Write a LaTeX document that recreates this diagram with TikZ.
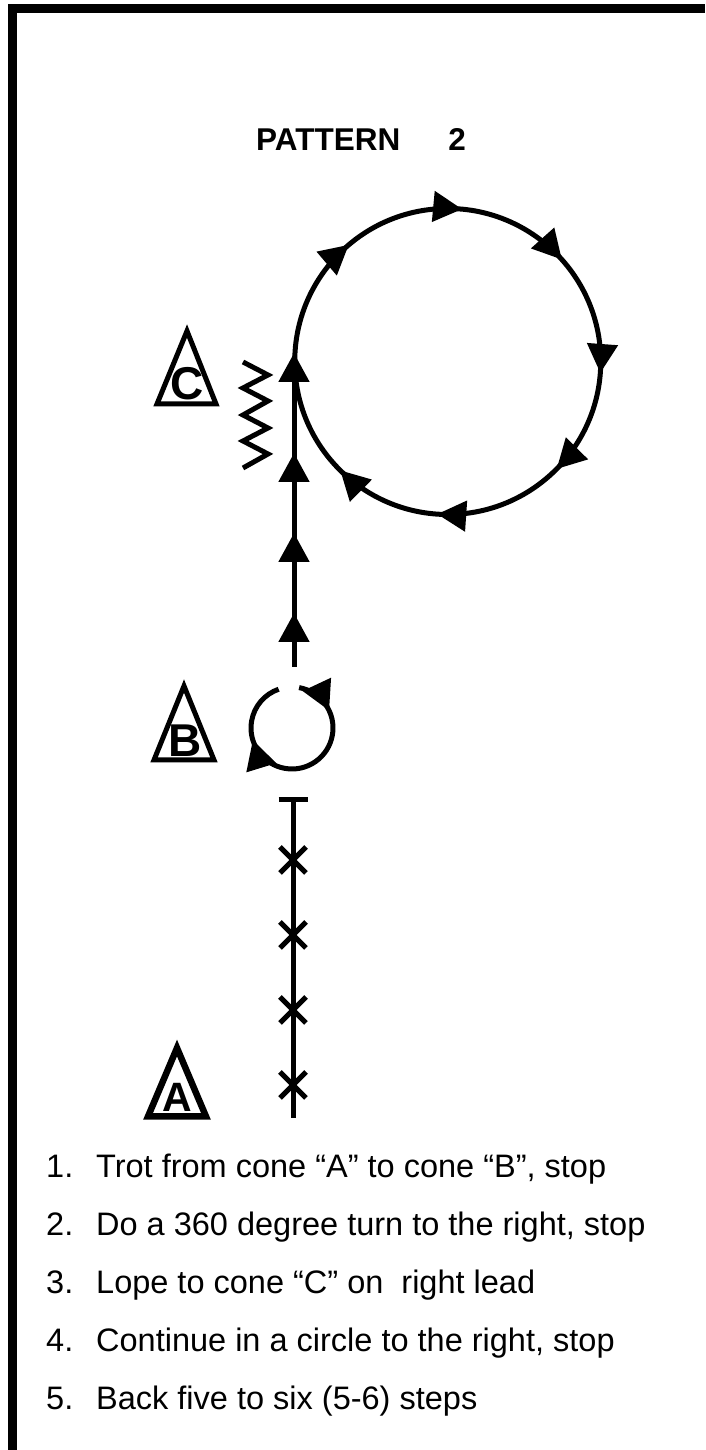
\documentclass[tikz,border=0pt]{standalone}
\usepackage{fontspec}
\setmainfont{Liberation Sans}
\usetikzlibrary{arrows.meta,decorations.markings}
\tikzset{
  pathtip/.tip={Triangle[length=29pt, width=30pt]},
  frameline/.style={line width=9pt, line join=miter},
  track/.style={line width=5pt, line join=miter},
  conetri/.style={line width=5pt, line join=miter},
  arrowat/.style={
    postaction={decorate, decoration={markings,
      mark=at position #1 with {\arrow{pathtip}}}}
  },
  conelabel/.style={font=\fontsize{46}{46}\selectfont\bfseries, inner sep=0pt, anchor=base},
  titlelabel/.style={font=\fontsize{31.5}{36}\selectfont\bfseries, inner sep=0pt, anchor=base west},
  steplabel/.style={font=\fontsize{32.5}{38}\selectfont, inner sep=0pt, anchor=base west}
}

\begin{document}
\begin{tikzpicture}[x=1pt, y=1pt]
  \useasboundingbox (0,0) rectangle (705,1450);

  % ==== FRAME ====
  \draw[frameline] (12.5,0) -- (12.5,1441.5) -- (705,1441.5);

  % ==== TITLE ====
  \node[titlelabel] (title) at (256,1299) {PATTERN\hspace{48pt}2};

  % ==== CONES ====
  \draw[conetri] (187,1119) -- (216,1046) -- (157,1046) -- cycle;
  \node[conelabel] (coneC) at (187,1050) {C};
  \draw[conetri] (184,764) -- (214,690) -- (154,690) -- cycle;
  \node[conelabel] (coneB) at (185,693) {B};
  \draw[conetri, line width=6.5pt] (177,402) -- (206,333.5) -- (148,333.5) -- cycle;
  \node[conelabel, font=\fontsize{41}{41}\selectfont\bfseries] (coneA) at (177,338) {A};

  % ==== TROT: cone A to cone B ====
  \draw[track] (293,332) -- (293,650);
  \draw[track] (278.5,650) -- (307.5,650);
  \foreach \y in {590,515,440,365}
    \draw[track] (280,\y-13) -- (306,\y+13) (280,\y+13) -- (306,\y-13);

  % ==== 360 TURN at cone B ====
  \draw[track, arrowat=0.166, arrowat=0.734]
    (292,722) ++(80:41) arc[start angle=80, end angle=-251, radius=41];

  % ==== LOPE to cone C ====
  \draw[track, -{pathtip}, arrowat=54pt, arrowat=134pt, arrowat=214pt]
    (294,783) -- (294,1097);

  % lead change
  \draw[track] (243,1088) -- (268,1075) -- (243,1062) -- (268,1049) -- (243,1035)
    -- (268,1022) -- (243,1009) -- (268,996) -- (243,982);

  % ==== CIRCLE to the right ====
  \draw[track, arrowat=0.138, arrowat=0.265, arrowat=0.384, arrowat=0.512,
    arrowat=0.624, arrowat=0.761, arrowat=0.874]
    (447.75,1088.5) ++(180:153) arc[start angle=180, end angle=-180, radius=153];

  % ==== STEPS ====
  \node[steplabel] (num1) at (46,272) {1.};
  \node[steplabel] (item1) at (96,272) {Trot from cone “A” to cone “B”, stop};
  \node[steplabel] (num2) at (46,214) {2.};
  \node[steplabel] (item2) at (96,214) {Do a 360 degree turn to the right, stop};
  \node[steplabel] (num3) at (46,156) {3.};
  \node[steplabel] (item3) at (96,156) {Lope to cone “C” on \ right lead};
  \node[steplabel] (num4) at (46,98) {4.};
  \node[steplabel] (item4) at (96,98) {Continue in a circle to the right, stop};
  \node[steplabel] (num5) at (46,40) {5.};
  \node[steplabel] (item5) at (96,40) {Back five to six (5-6) steps};
\end{tikzpicture}
\end{document}
